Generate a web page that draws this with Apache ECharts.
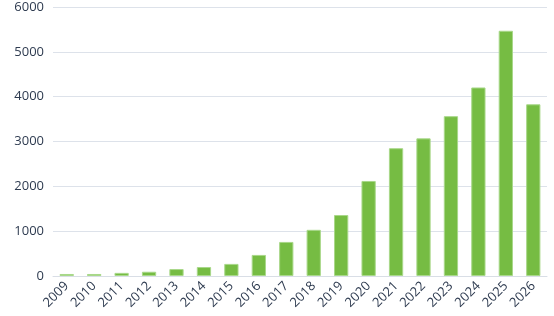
<!DOCTYPE html>
<html><head><meta charset="utf-8">
<script src="https://cdn.jsdelivr.net/npm/echarts@6/dist/echarts.min.js"></script>
<style>html,body{margin:0;padding:0;background:#fff}#c{width:554px;height:316px}</style>
</head><body><div id="c"></div>
<script>
const categories = ['2009','2010','2011','2012','2013','2014','2015','2016','2017','2018','2019','2020','2021','2022','2023','2024','2025','2026'];
const values = [45, 45, 70, 95, 155, 200, 270, 470, 760, 1030, 1360, 2120, 2850, 3070, 3565, 4205, 5470, 3830];
const yTicks = [0, 1000, 2000, 3000, 4000, 5000, 6000];

const chart = echarts.init(document.getElementById('c'), null, {renderer: 'canvas'});
chart.setOption({
  animation: false,
  grid: {left: 53, right: 7, top: 7, bottom: 40, containLabel: false},
  xAxis: {
    type: 'category', data: categories,
    axisLine: {lineStyle: {color: '#d9dee6'}},
    axisTick: {show: false},
    axisLabel: {rotate: 45, color: '#2e3b50', fontSize: 13, fontFamily: 'Open Sans', margin: 8, interval: 0}
  },
  yAxis: {
    type: 'value', min: yTicks[0], max: yTicks[yTicks.length-1], interval: 1000,
    axisLine: {show: false}, axisTick: {show: false},
    splitLine: {lineStyle: {color: '#dde2ea'}},
    axisLabel: {color: '#2e3b50', fontSize: 13, fontFamily: 'Open Sans', margin: 9, formatter: v => String(v)}
  },
  series: [{
    type: 'bar', data: values, barWidth: '52%',
    itemStyle: {color: '#76bc43', borderColor: '#a9d88a', borderWidth: 1}
  }]
});
</script></body></html>
